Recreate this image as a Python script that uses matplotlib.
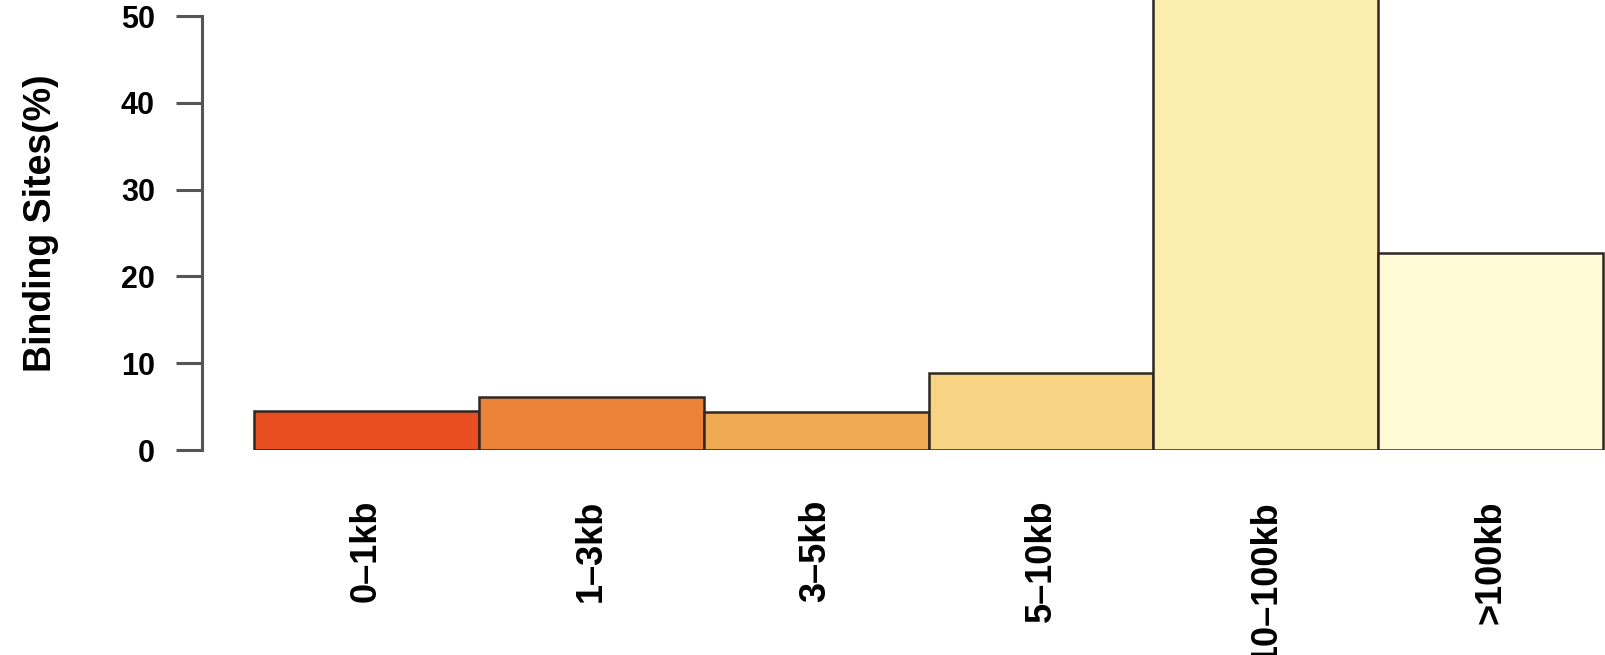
import matplotlib
matplotlib.use("Agg")
import matplotlib.pyplot as plt
import numpy as np

categories = ["0–1kb", "1–3kb", "3–5kb", "5–10kb", "10–100kb", ">100kb"]
values = [4.55, 6.1, 4.4, 8.85, 53.4, 22.7]
colors = ["#E84E22", "#EB8237", "#F0AB52", "#F7D484", "#FCEEAE", "#FFFBD6"]
yticks = [0, 10, 20, 30, 40, 50]

plt.rcParams['font.family'] = ['Liberation Sans', 'DejaVu Sans']

fig = plt.figure(figsize=(16.05, 6.55), dpi=100)
W, H = 1605, 655
ax = fig.add_axes([202 / W, (H - 450) / H, 1 - 202 / W, 450 / H])

x = np.arange(len(categories))
ax.bar(x, values, width=1.0, color=colors, edgecolor="#2f2822", linewidth=1.8)

ax.set_xlim(-0.5 - 52 / 224.8, 5.5 + 2 / 224.8)
ax.set_ylim(0, 50 + 16 / 8.68)

for s in ["top", "right", "bottom"]:
    ax.spines[s].set_visible(False)
ax.spines["left"].set_bounds(0, 50)
ax.spines["left"].set_color("#555555")
ax.spines["left"].set_linewidth(2.2)

ax.set_yticks(yticks)
ax.set_yticklabels([str(t) for t in yticks], fontsize=22, fontweight="bold")
ax.tick_params(axis="y", length=19, width=2.2, color="#555555", pad=15)

ax.set_xticks(x)
ax.set_xticklabels(categories, rotation=90, fontsize=26, fontweight="bold", va="top", ha="center")
ax.tick_params(axis="x", length=0, pad=36)

ax.set_ylabel("Binding Sites(%)", fontsize=27, fontweight="bold")
ax.yaxis.set_label_coords(-0.102, 0.505)

fig.savefig("out.png", dpi=100)
